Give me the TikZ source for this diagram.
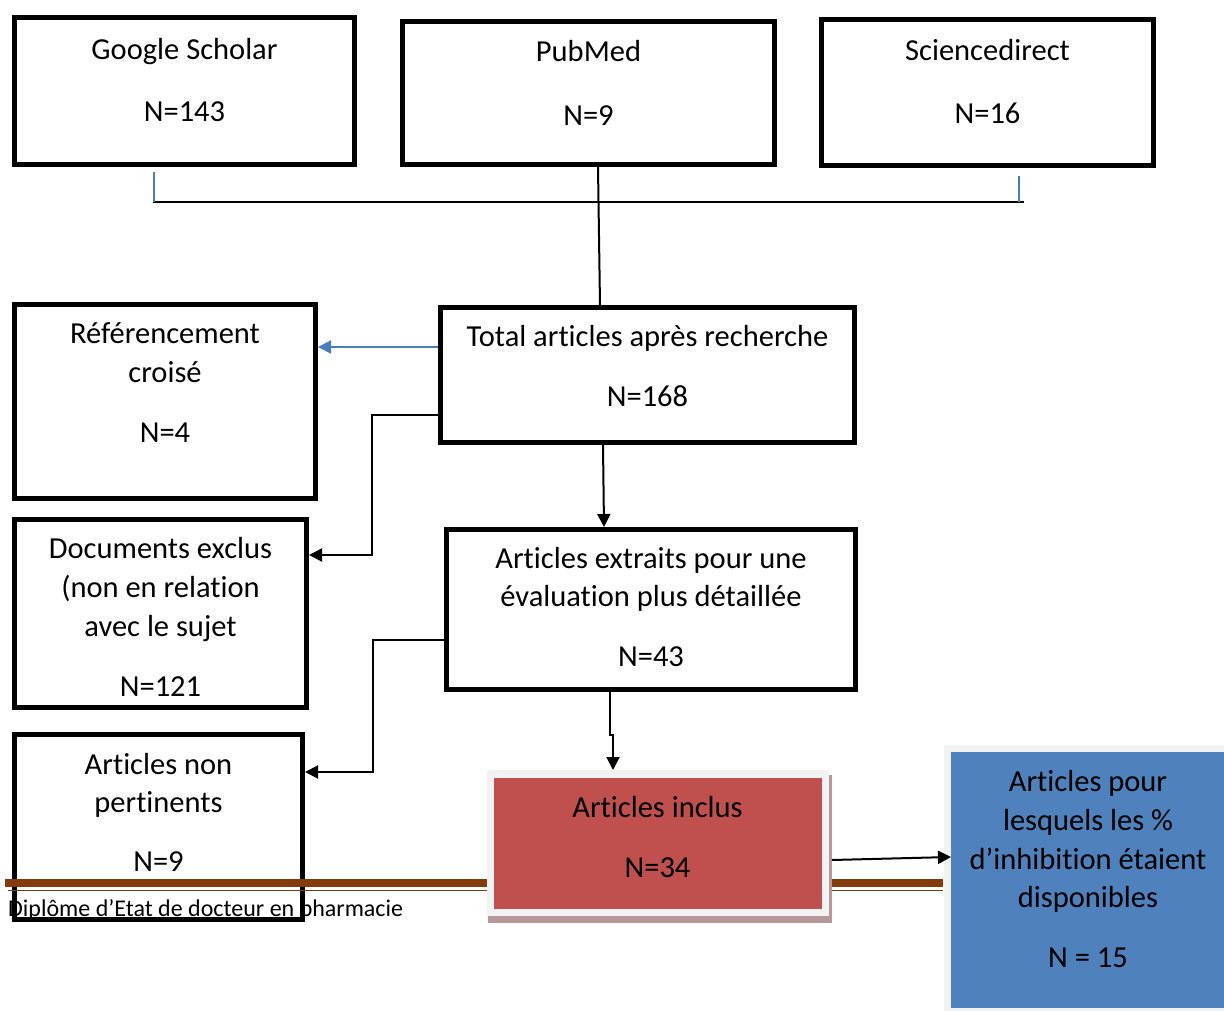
\documentclass[tikz,border=0pt]{standalone}
\usepackage{fontspec}
\setmainfont[Ligatures=NoCommon]{Carlito}
\usetikzlibrary{arrows.meta}
\definecolor{redfill}{HTML}{C0504D}
\definecolor{bluefill}{HTML}{4F81BD}
\definecolor{blueline}{HTML}{4A7EBB}
\definecolor{brownline}{HTML}{843C0C}
\definecolor{framegray}{HTML}{F2F2F2}
\definecolor{shadowc}{RGB}{183,152,152}
\begin{document}
\begin{tikzpicture}[x=1pt,y=-1pt,
 box/.style={draw=black,line width=5pt,rectangle,inner sep=0pt,outer sep=2.5pt},
 plate/.style={rectangle,inner sep=0pt,outer sep=0pt,draw=none},
 lbl/.style={anchor=base,inner sep=0pt,font=\fontsize{30.5}{38}\selectfont},
 conn/.style={draw=black,line width=2pt},
 arr/.style={conn,-{Triangle[length=13pt,width=13pt]}},
 barr/.style={draw=blueline,line width=2pt,-{Triangle[length=13pt,width=13pt]}},
 tick/.style={draw=blueline,line width=1.5pt}]
\useasboundingbox (0,0) rectangle (1224,1011);
\fill[white] (0,0) rectangle (1224,1011);

% footer text (under the box)
\node[anchor=base west,inner sep=0pt,font=\fontsize{24}{29}\selectfont] (foot) at (8,916) {Diplôme d’Etat de docteur en pharmacie};

% top boxes
\node[box,minimum width=340pt,minimum height=147pt] (gs) at (184.5,91) {};
\node[lbl] (gs1) at (184.5,60) {Google Scholar};
\node[lbl] (gs2) at (184.5,122) {N=143};

\node[box,minimum width=372pt,minimum height=143pt] (pm) at (588.5,93) {};
\node[lbl] (pm1) at (588.5,62) {PubMed};
\node[lbl] (pm2) at (588.5,126) {N=9};

\node[box,minimum width=332pt,minimum height=146pt] (sd) at (987.5,92.5) {};
\node[lbl] (sd1) at (987.5,61) {Sciencedirect};
\node[lbl] (sd2) at (987.5,124) {N=16};

% total
\node[box,minimum width=414pt,minimum height=135pt] (tot) at (647.5,375) {};
\node[lbl] (tot1) at (647.5,346) {Total articles après recherche};
\node[lbl] (tot2) at (647.5,406) {N=168};

% referencement
\node[box,minimum width=301pt,minimum height=194pt] (ref) at (165,401.5) {};
\node[lbl] (ref1) at (165,343) {Référencement};
\node[lbl] (ref2) at (165,382) {croisé};
\node[lbl] (ref3) at (165,442) {N=4};

% documents exclus
\node[box,minimum width=292pt,minimum height=188pt] (doc) at (160.5,613.5) {};
\node[lbl] (doc1) at (160.5,558) {Documents exclus};
\node[lbl] (doc2) at (160.5,597) {(non en relation};
\node[lbl] (doc3) at (160.5,636) {avec le sujet};
\node[lbl] (doc4) at (160.5,696) {N=121};

% extraits
\node[box,minimum width=409pt,minimum height=160pt] (ext) at (651,609.5) {};
\node[lbl] (ext1) at (651,568) {Articles extraits pour une};
\node[lbl] (ext2) at (651,606) {évaluation plus détaillée};
\node[lbl] (ext3) at (651,666) {N=43};

% non pertinents
\node[box,minimum width=288pt,minimum height=185pt] (np) at (158.5,827) {};
\node[lbl] (np1) at (158.5,774) {Articles non};
\node[lbl] (np2) at (158.5,812) {pertinents};
\node[lbl] (np3) at (158.5,871) {N=9};

% footer band
\draw[brownline,line width=8pt] (5,883) -- (943,883);
\draw[brownline,line width=1.5pt] (8,890.5) -- (943,890.5);

% articles inclus
\node[plate,fill=shadowc,minimum width=344pt,minimum height=148pt] (incs) at (660,849) {};
\node[plate,fill=framegray,minimum width=342pt,minimum height=146pt] (incf) at (658,843) {};
\node[plate,fill=redfill,minimum width=328pt,minimum height=131pt] (inc) at (657.5,843.5) {};
\node[lbl] (inc1) at (657.5,817) {Articles inclus};
\node[lbl] (inc2) at (657.5,877) {N=34};

% blue box
\node[plate,fill=framegray,minimum width=290pt,minimum height=266pt] (bluf) at (1089,878) {};
\node[plate,fill=bluefill,minimum width=276pt,minimum height=256pt] (blu) at (1089,880) {};
\node[lbl] (blu1) at (1088,791) {Articles pour};
\node[lbl] (blu2) at (1088,830) {lesquels les \%};
\node[lbl] (blu3) at (1088,869) {d’inhibition étaient};
\node[lbl] (blu4) at (1088,907) {disponibles};
\node[lbl] (blu5) at (1088,967) {N = 15};

% top connectors
\coordinate (hl) at (153,202);
\coordinate (hr) at (1024,202);
\draw[conn,line width=1.8pt] (hl) -- (hr);
\draw[tick] ([xshift=-30.5pt,yshift=-5pt]gs.south) -- ([xshift=-30.5pt]gs.south |- hl);
\draw[tick] ([xshift=31.5pt,yshift=-8pt]sd.south) -- ([xshift=31.5pt]sd.south |- hr);
\draw[conn] ([xshift=9.5pt]pm.south) -- ([xshift=-47.5pt]tot.north);

% blue arrow to referencement
\coordinate (b1) at ([yshift=28pt]tot.west);
\draw[barr] (b1) -- (b1 -| ref.east);

% total -> documents exclus
\coordinate (b2) at ([yshift=-40pt]tot.west);
\coordinate (b2e) at ([yshift=58.5pt]doc.east);
\coordinate (k1) at (372,480);
\draw[arr] (b2) -| (k1) |- (b2e);

% total -> extraits
\draw[arr] ([xshift=-44.5pt]tot.south) -- ([xshift=-47pt]ext.north);

% extraits -> non pertinents
\coordinate (b3) at ([yshift=-30.5pt]ext.west);
\coordinate (b3e) at ([yshift=55pt]np.east);
\coordinate (k2) at (373,700);
\draw[arr] (b3) -| (k2) |- (b3e);

% extraits -> inclus
\coordinate (k3) at ([xshift=-41pt]ext.south);
\draw[arr] (k3) -- ++(0,43) -- ++(3,0) -- ([xshift=-45pt]incf.north);

% inclus -> blue
\draw[arr] ([yshift=-11pt]incs.east) -- ([yshift=23pt]blu.west);
\end{tikzpicture}
\end{document}
